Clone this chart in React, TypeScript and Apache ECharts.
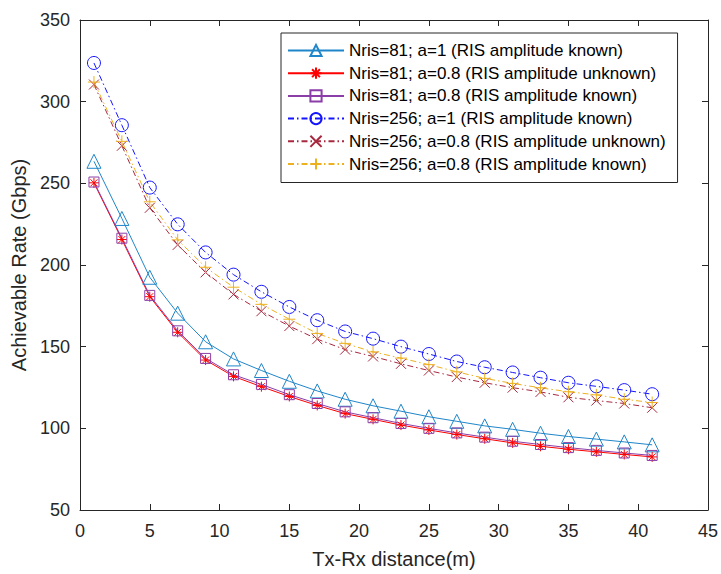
import React, { useEffect, useRef } from "react";
import * as echarts from "echarts";

const distances = [1, 3, 5, 7, 9, 11, 13, 15, 17, 19, 21, 23, 25, 27, 29, 31, 33, 35, 37, 39, 41];

const nris81a1Known = [263.5, 228.5, 192.5, 170.5, 153, 142.5, 135.4, 128.8, 122.9, 117.8, 113.8, 110.5, 107.1, 104.3, 101.5, 99.4, 97, 95, 93.4, 91.7, 89.9];
const nris81a08Unknown = [250.3, 215.6, 180.6, 158.8, 141.8, 131.8, 125.5, 119.5, 114, 109, 105.5, 102, 99, 96.2, 93.6, 91.1, 89, 87.2, 85.6, 84, 82.5];
const nris81a08Known = [250.8, 216.4, 181.4, 159.7, 142.8, 132.8, 126.9, 120.6, 115.2, 110.1, 106.5, 103, 100, 97.2, 94.6, 92.1, 90.1, 88.2, 86.5, 84.9, 83.4];
const nris256a1Known = [323.7, 285.6, 247.4, 224.9, 207.7, 194.1, 183.6, 174.3, 166.2, 159.3, 154.9, 150, 145.5, 140.9, 137.4, 134.2, 131, 127.9, 125.7, 123.4, 120.9];
const nris256a08Unknown = [310.5, 273, 235, 212.3, 195.5, 182, 171.7, 162.6, 154.6, 148.2, 144, 139.5, 135.4, 131.4, 127.9, 124.9, 122.3, 119, 117, 115.2, 112.6];
const nris256a08Known = [312, 275.7, 238.7, 215.4, 198.6, 186.4, 175.9, 166.8, 158.1, 152, 146.8, 143, 139, 134.6, 130.6, 127.5, 124.8, 122.4, 120.5, 117.8, 115.8];

const seriesNames = [
  "Nris=81; a=1 (RIS amplitude known)",
  "Nris=81; a=0.8 (RIS amplitude unknown)",
  "Nris=81; a=0.8 (RIS amplitude known)",
  "Nris=256; a=1 (RIS amplitude known)",
  "Nris=256; a=0.8 (RIS amplitude unknown)",
  "Nris=256; a=0.8 (RIS amplitude known)",
];

const xTicks = { min: 0, max: 45, interval: 5 };
const yTicks = { min: 50, max: 350, interval: 50 };

const AXIS_COLOR = "#262626";
const FONT = "Liberation Sans, Arial, sans-serif";
const DASHDOT = [6, 3, 1.5, 3];

const ASTERISK = "path://M0,-10L0,10M-10,0L10,0M-7,-7L7,7M-7,7L7,-7";
const CROSS = "path://M-10,-10L10,10M-10,10L10,-10";
const PLUS = "path://M0,-10L0,10M-10,0L10,0";

function makeSeries(
  name: string,
  values: number[],
  color: string,
  symbol: string,
  symbolSize: number,
  dashed: boolean
) {
  return {
    name,
    type: "line",
    data: distances.map((d, i) => [d, values[i]]),
    symbol,
    symbolSize,
    showSymbol: true,
    xAxisIndex: 0,
    yAxisIndex: 0,
    lineStyle: { color, width: 1, type: dashed ? DASHDOT : "solid" },
    itemStyle: { color: "rgba(0,0,0,0)", borderColor: color, borderWidth: 1 },
    emphasis: { disabled: true },
    z: 2,
  };
}

export default function App() {
  const ref = useRef<HTMLDivElement>(null);

  useEffect(() => {
    if (!ref.current) return;
    const chart = echarts.init(ref.current, undefined, { renderer: "svg" });

    const axisCommon = {
      axisLine: { show: true, onZero: false, lineStyle: { color: AXIS_COLOR, width: 1 } },
      axisTick: { show: true, inside: true, length: 6, lineStyle: { color: AXIS_COLOR } },
      splitLine: { show: false },
    };

    chart.setOption({
      animation: false,
      backgroundColor: "#ffffff",
      grid: { left: 80, right: 12, top: 20, bottom: 60, containLabel: false },
      legend: {
        orient: "vertical",
        left: 281,
        top: 33,
        padding: [9, 12, 10, 6],
        itemWidth: 56,
        itemHeight: 14,
        itemGap: 5.7,
        backgroundColor: "#ffffff",
        borderColor: AXIS_COLOR,
        borderWidth: 1,
        borderRadius: 0,
        selectedMode: false,
        textStyle: { fontSize: 17, fontFamily: FONT, color: "#000000" },
        data: seriesNames,
        z: 10,
      },
      xAxis: [
        {
          type: "value",
          ...xTicks,
          position: "bottom",
          name: "Tx-Rx distance(m)",
          nameLocation: "middle",
          nameGap: 39,
          nameTextStyle: { fontSize: 20, fontFamily: FONT, color: AXIS_COLOR },
          axisLabel: { fontSize: 18, fontFamily: FONT, color: AXIS_COLOR, margin: 12 },
          ...axisCommon,
        },
        {
          type: "value",
          ...xTicks,
          position: "top",
          axisLabel: { show: false },
          ...axisCommon,
        },
      ],
      yAxis: [
        {
          type: "value",
          ...yTicks,
          position: "left",
          name: "Achievable Rate (Gbps)",
          nameLocation: "middle",
          nameGap: 50,
          nameTextStyle: { fontSize: 20, fontFamily: FONT, color: AXIS_COLOR },
          axisLabel: { fontSize: 18, fontFamily: FONT, color: AXIS_COLOR, margin: 10 },
          ...axisCommon,
        },
        {
          type: "value",
          ...yTicks,
          position: "right",
          axisLabel: { show: false },
          ...axisCommon,
        },
      ],
      series: [
        makeSeries(seriesNames[0], nris81a1Known, "#1f86c9", "triangle", 14, false),
        makeSeries(seriesNames[1], nris81a08Unknown, "#ff0000", ASTERISK, 10, false),
        makeSeries(seriesNames[2], nris81a08Known, "#8c3ea8", "rect", 10, false),
        makeSeries(seriesNames[3], nris256a1Known, "#1414ff", "circle", 13, true),
        makeSeries(seriesNames[4], nris256a08Unknown, "#a8283f", CROSS, 10, true),
        makeSeries(seriesNames[5], nris256a08Known, "#edb120", PLUS, 12, true),
      ],
    });

    return () => chart.dispose();
  }, []);

  return (
    <div
      ref={ref}
      style={{ position: "fixed", left: 0, top: 0, width: 721, height: 574, background: "#fff" }}
    />
  );
}
